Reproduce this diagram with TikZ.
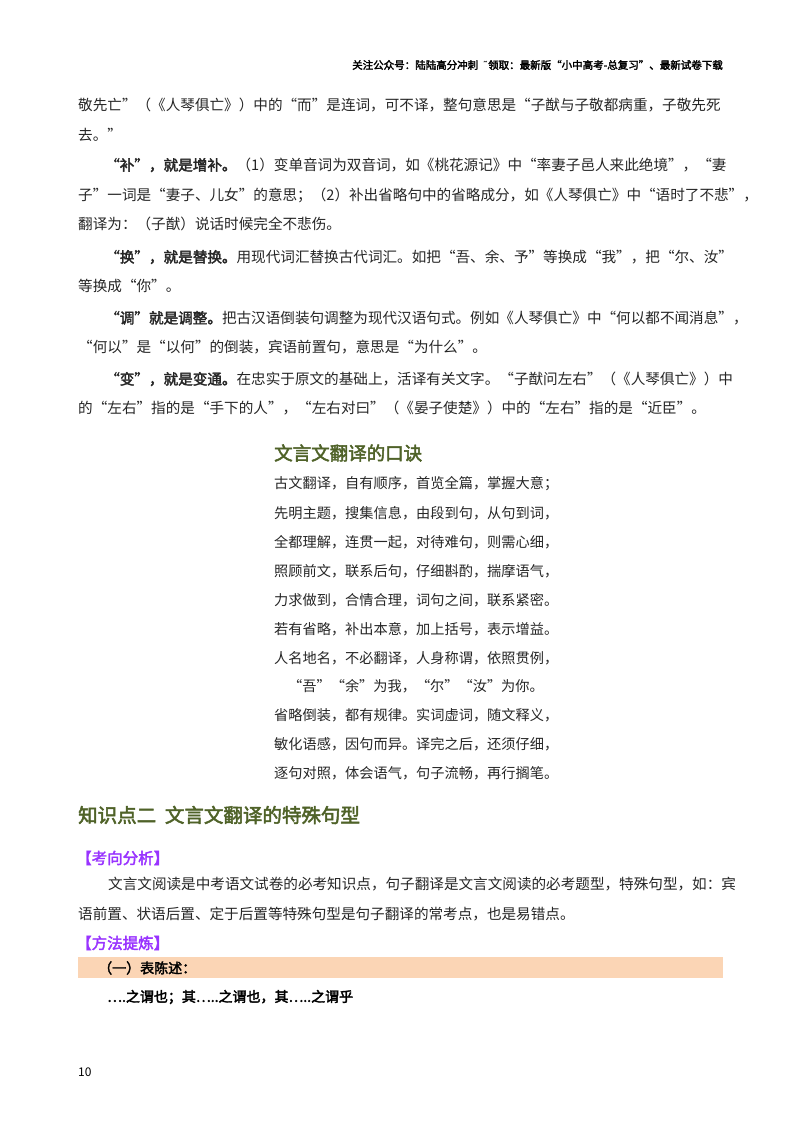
\documentclass[tikz,border=0pt]{standalone}
\usepackage{fontspec}
\setmainfont{Noto Sans CJK SC}
\newfontfamily\cjkb{Noto Sans CJK SC}[FakeBold=2.5]
\newfontfamily\djv{DejaVu Sans}
\definecolor{olive}{HTML}{4F6228}
\definecolor{purp}{HTML}{9933FF}
\definecolor{bar}{HTML}{FBD5B5}
\begin{document}
\begin{tikzpicture}[x=1pt,y=-1pt,
  body/.style={anchor=west,inner sep=0pt,font=\fontsize{14.6}{15}\selectfont,text=black!85},
  poem/.style={anchor=west,inner sep=0pt,font=\fontsize{14.2}{15}\selectfont,text=black!85},
  bhead/.style={anchor=west,inner sep=0pt,font=\cjkb\fontsize{14}{15}\selectfont}]
\useasboundingbox (0,0) rectangle (800,1132);
\fill[white] (0,0) rectangle (800,1132);
\node[anchor=east,inner sep=0pt,font=\cjkb\fontsize{10.5}{12}\selectfont] (hdr) at (723,65) {关注公众号：陆陆高分冲刺\ \ {\djv ˜}领取：最新版“小中高考-总复习”、最新试卷下载};
\node[body] (l1) at (78,105) {敬先亡”（《人琴俱亡》）中的“而”是连词，可不译，整句意思是“子猷与子敬都病重，子敬先死};
\node[body] (l2) at (78,135) {去。”};
\node[body] (l3) at (105,165) {{\cjkb “补”，就是增补。}（1）变单音词为双音词，如《桃花源记》中“率妻子邑人来此绝境”，“妻};
\node[body] (l4) at (78,195) {子”一词是“妻子、儿女”的意思；（2）补出省略句中的省略成分，如《人琴俱亡》中“语时了不悲”，};
\node[body] (l5) at (78,224) {翻译为：（子猷）说话时候完全不悲伤。};
\node[body] (l6) at (105,257) {{\cjkb “换”，就是替换。}用现代词汇替换古代词汇。如把“吾、余、予”等换成“我”，把“尔、汝”};
\node[body] (l7) at (78,286) {等换成“你”。};
\node[body] (l8) at (105,318) {{\cjkb “调”就是调整。}把古汉语倒装句调整为现代汉语句式。例如《人琴俱亡》中“何以都不闻消息”，};
\node[body] (l9) at (78,347) {“何以”是“以何”的倒装，宾语前置句，意思是“为什么”。};
\node[body] (l10) at (105,379) {{\cjkb “变”，就是变通。}在忠实于原文的基础上，活译有关文字。“子猷问左右”（《人琴俱亡》）中};
\node[body] (l11) at (78,408) {的“左右”指的是“手下的人”，“左右对曰”（《晏子使楚》）中的“左右”指的是“近臣”。};
\node[anchor=west,inner sep=0pt,text=olive,font=\cjkb\fontsize{18.5}{20}\selectfont] (pt) at (274,453) {文言文翻译的口诀};
\node[poem] (p1) at (274,484) {古文翻译，自有顺序，首览全篇，掌握大意；};
\node[poem] (p2) at (274,513) {先明主题，搜集信息，由段到句，从句到词，};
\node[poem] (p3) at (274,542) {全都理解，连贯一起，对待难句，则需心细，};
\node[poem] (p4) at (274,571) {照顾前文，联系后句，仔细斟酌，揣摩语气，};
\node[poem] (p5) at (274,600) {力求做到，合情合理，词句之间，联系紧密。};
\node[poem] (p6) at (274,629) {若有省略，补出本意，加上括号，表示增益。};
\node[poem] (p7) at (274,658) {人名地名，不必翻译，人身称谓，依照贯例，};
\node[poem] (p8) at (288,686) {“吾”“余”为我，“尔”“汝”为你。};
\node[poem] (p9) at (274,715) {省略倒装，都有规律。实词虚词，随文释义，};
\node[poem] (p10) at (274,744) {敏化语感，因句而异。译完之后，还须仔细，};
\node[poem] (p11) at (274,773) {逐句对照，体会语气，句子流畅，再行搁笔。};
\node[anchor=west,inner sep=0pt,text=olive,font=\cjkb\fontsize{19.5}{21}\selectfont] (sec) at (78,815) {知识点二\ \ 文言文翻译的特殊句型};
\node[anchor=west,inner sep=0pt,text=purp,font=\cjkb\fontsize{15.5}{17}\selectfont] (k1) at (76,858) {【考向分析】};
\node[body] (q1) at (108,884) {文言文阅读是中考语文试卷的必考知识点，句子翻译是文言文阅读的必考题型，特殊句型，如：宾};
\node[body] (q2) at (78,914) {语前置、状语后置、定于后置等特殊句型是句子翻译的常考点，也是易错点。};
\node[anchor=west,inner sep=0pt,text=purp,font=\cjkb\fontsize{15.5}{17}\selectfont] (k2) at (76,943) {【方法提炼】};
\fill[bar] (78,957) rectangle (723,978);
\node[bhead] (b1) at (98,968) {（一）表陈述：};
\node[bhead] (b2) at (107,997) {….之谓也；其…..之谓也，其…..之谓乎};
\node[anchor=west,inner sep=0pt,font=\fontsize{12}{14}\selectfont] (pg) at (78,1072) {10};
\end{tikzpicture}
\end{document}
